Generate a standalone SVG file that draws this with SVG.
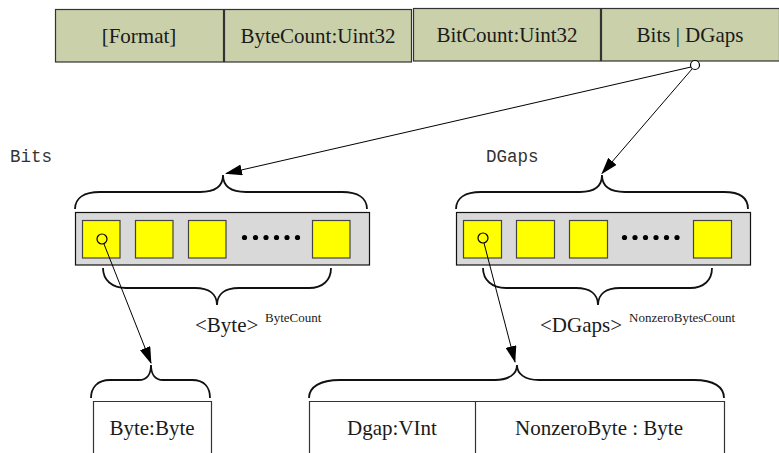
<svg xmlns="http://www.w3.org/2000/svg" width="779" height="453" viewBox="0 0 779 453">
  <style>
    .field { fill: #c9d0aa; stroke: #333; stroke-width: 1.2; }
    .serif { font-family: 'Liberation Serif', Tinos, 'Times New Roman', 'DejaVu Serif', serif; fill: #1a1a1a; }
    .lbl { font-size: 21px; text-anchor: middle; }
    .sup { font-size: 13px; }
    .mono { font-family: 'Liberation Mono', 'DejaVu Sans Mono', monospace; font-size: 17.5px; fill: #333; }
    .tray { fill: #d9d9d9; stroke: #111; stroke-width: 1.2; }
    .cell { fill: #ffff00; stroke: #444; stroke-width: 1.2; }
    .brace { fill: none; stroke: #111; stroke-width: 1.8; }
    .box { fill: #fff; stroke: #333; stroke-width: 1.2; }
    .link { stroke: #000; stroke-width: 1; fill: none; marker-end: url(#arrow); }
    .pin { fill: #fff; stroke: #000; stroke-width: 1.2; }
    .hole { fill: none; stroke: #000; stroke-width: 1.2; }
    .dot { fill: #000; }
  </style>
  <defs>
    <marker id="arrow" markerWidth="17" markerHeight="11" viewBox="0 0 17 11" refX="16" refY="5.5" orient="auto" markerUnits="userSpaceOnUse">
      <path d="M0,0 L17,5.5 L0,11 Z" fill="#000"/>
    </marker>
  </defs>

  <rect width="779" height="453" fill="#fff"/>

  <!-- header fields -->
  <g id="format">
    <rect class="field" x="55.5" y="9.5" width="168" height="52.5"/>
    <text class="serif lbl" x="139" y="43">[Format]</text>
  </g>
  <g id="bytecount">
    <rect class="field" x="224.5" y="9.5" width="187" height="52.5"/>
    <text class="serif lbl" x="318" y="43">ByteCount:Uint32</text>
  </g>
  <g id="bitcount">
    <rect class="field" x="413.5" y="8.5" width="187" height="52.5"/>
    <text class="serif lbl" x="507" y="42">BitCount:Uint32</text>
  </g>
  <g id="payload">
    <rect class="field" x="601.5" y="8.5" width="178" height="52.5"/>
    <text class="serif lbl" x="690" y="42">Bits | DGaps</text>
  </g>

  <!-- Bits array -->
  <g id="bits">
    <text class="mono" x="10" y="162">Bits</text>
    <path class="brace" d="M75,209 C75,198 84,192 100,192 L200,192 C214,192 223,187 223,175 C223,187 232,192 246,192 L342,192 C358,192 367,198 367,209"/>
    <rect class="tray" x="75.5" y="212.5" width="294" height="52.5"/>
    <rect class="cell" x="82.5" y="220.5" width="37.5" height="37.5"/>
    <rect class="cell" x="135.5" y="220.5" width="37.5" height="37.5"/>
    <rect class="cell" x="188.5" y="220.5" width="37.5" height="37.5"/>
    <rect class="cell" x="312.5" y="220.5" width="37.5" height="37.5"/>
    <g class="dot">
      <circle cx="244.5" cy="237.5" r="2.6"/>
      <circle cx="255.5" cy="237.5" r="2.6"/>
      <circle cx="266" cy="237.5" r="2.6"/>
      <circle cx="276.5" cy="237.5" r="2.6"/>
      <circle cx="287" cy="237.5" r="2.6"/>
      <circle cx="297.5" cy="237.5" r="2.6"/>
    </g>
    <path class="brace" d="M103,268 C103,280 112,288 126,288 L195,288 C209,288 217,294 217,305 C217,294 225,288 239,288 L309,288 C323,288 331,280 331,268"/>
    <text class="serif" x="195" y="332" font-size="21">&lt;Byte&gt;</text>
    <text class="serif sup" x="265" y="322">ByteCount</text>
  </g>

  <!-- DGaps array -->
  <g id="dgaps">
    <text class="mono" x="486" y="162">DGaps</text>
    <path class="brace" d="M456,209 C456,198 465,192 481,192 L580,192 C594,192 602,187 602,175 C602,187 611,192 625,192 L724,192 C740,192 748,198 748,209"/>
    <rect class="tray" x="456.5" y="212.5" width="294" height="52.5"/>
    <rect class="cell" x="463.5" y="220.5" width="38" height="37.5"/>
    <rect class="cell" x="516.5" y="220.5" width="38" height="37.5"/>
    <rect class="cell" x="569.5" y="220.5" width="38" height="37.5"/>
    <rect class="cell" x="693.5" y="220.5" width="38" height="37.5"/>
    <g class="dot">
      <circle cx="624.5" cy="237.5" r="2.6"/>
      <circle cx="635" cy="237.5" r="2.6"/>
      <circle cx="645.5" cy="237.5" r="2.6"/>
      <circle cx="656" cy="237.5" r="2.6"/>
      <circle cx="666.5" cy="237.5" r="2.6"/>
      <circle cx="677" cy="237.5" r="2.6"/>
    </g>
    <path class="brace" d="M483,268 C483,280 492,288 506,288 L576,288 C590,288 598,294 598,305 C598,294 606,288 620,288 L690,288 C704,288 712,280 712,268"/>
    <text class="serif" x="540" y="332" font-size="21">&lt;DGaps&gt;</text>
    <text class="serif sup" x="629" y="322">NonzeroBytesCount</text>
  </g>

  <!-- single Byte record -->
  <g id="byte">
    <path class="brace" d="M91,398 C91,388 97,380 110,380 L139,380 C147,380 151,374 151,365 C151,374 155,380 163,380 L192,380 C205,380 210,388 210,398"/>
    <path class="box" d="M93.5,454 L93.5,401.5 L211.5,401.5 L211.5,454"/>
    <text class="serif lbl" x="152" y="435">Byte:Byte</text>
  </g>

  <!-- single DGap record -->
  <g id="dgap">
    <path class="brace" d="M309,398 C309,387 320,380 340,380 L495,380 C509,380 517,374 517,365 C517,374 525,380 539,380 L694,380 C714,380 724,387 724,398"/>
    <path class="box" d="M309.5,454 L309.5,401.5 L724.5,401.5 L724.5,454"/>
    <line x1="475.5" y1="401.5" x2="475.5" y2="454" stroke="#333" stroke-width="1.2"/>
    <text class="serif lbl" x="392" y="435">Dgap:VInt</text>
    <text class="serif lbl" x="599" y="435">NonzeroByte : Byte</text>
  </g>

  <!-- connectors -->
  <g id="connectors">
    <line class="link" x1="691" y1="67" x2="226" y2="173.5"/>
    <line class="link" x1="692" y1="69" x2="602" y2="173.5"/>
    <circle class="pin" cx="695" cy="65" r="4.5"/>
    <line class="link" x1="104" y1="244" x2="151" y2="363"/>
    <circle class="hole" cx="102" cy="239" r="5"/>
    <line class="link" x1="484" y1="243" x2="515" y2="362"/>
    <circle class="hole" cx="483" cy="238" r="5"/>
  </g>
</svg>
